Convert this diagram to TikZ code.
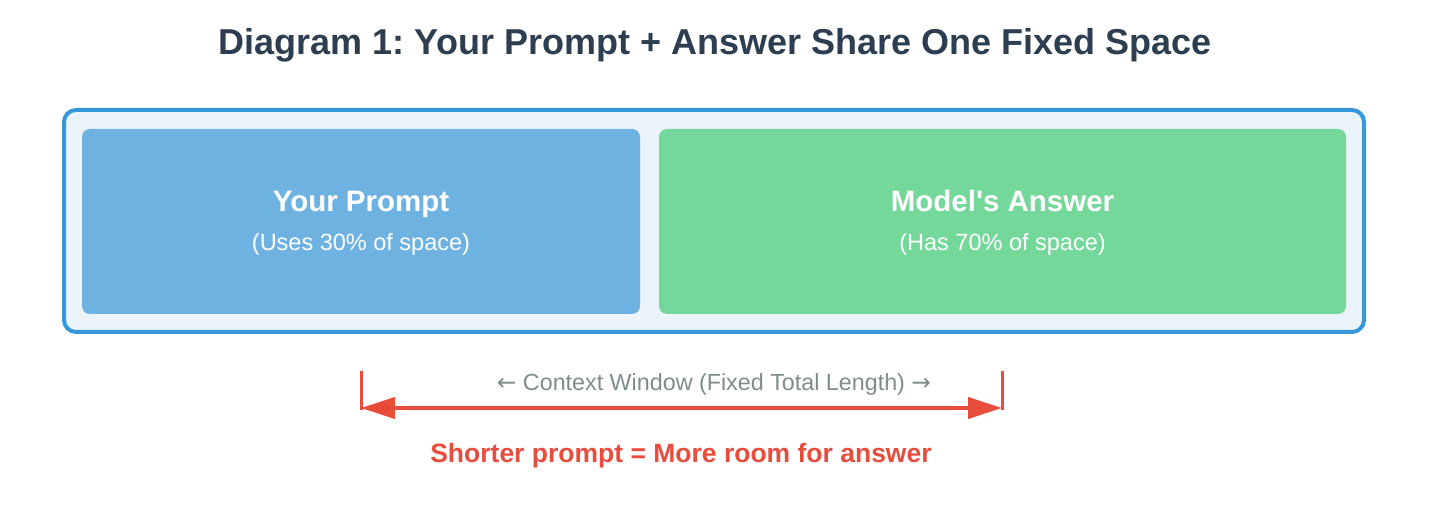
\documentclass[tikz,border=0pt]{standalone}
\usepackage{fontspec}
\setmainfont{Liberation Sans}
\newfontfamily\arrowfont{DejaVu Sans}
\usetikzlibrary{arrows.meta}
\frenchspacing

\definecolor{titleblue}{HTML}{2C3E50}
\definecolor{frameblue}{HTML}{3498DB}
\definecolor{framefill}{HTML}{EAF4FA}
\definecolor{promptfill}{HTML}{6EB2E2}
\definecolor{answerfill}{HTML}{74D89B}
\definecolor{notegray}{HTML}{7F8C8D}
\definecolor{alertred}{HTML}{E74C3C}

\begin{document}
\begin{tikzpicture}[x=1pt,y=-1pt,
    part/.style={rectangle,rounded corners=8pt,inner sep=0pt,minimum height=185pt},
    head/.style={anchor=base,text=white,font=\bfseries\fontsize{29.5}{34}\selectfont},
    sub/.style={anchor=base,text=white,font=\fontsize{23.5}{28}\selectfont}]
    \useasboundingbox (0,0) rectangle (1456,510);

    \node[anchor=base,text=titleblue,font=\bfseries\fontsize{36}{42}\selectfont] (title) at (715,55) {Diagram 1: Your Prompt + Answer Share One Fixed Space};

    \node[rectangle,rounded corners=12pt,draw=frameblue,line width=4pt,fill=framefill,
      minimum width=1300pt,minimum height=222pt,inner sep=0pt] (window) at (714,221) {};
    \node[part,fill=promptfill,minimum width=558pt] (prompt) at (361,221.5) {};
    \node[part,fill=answerfill,minimum width=687pt] (answer) at (1002.5,221.5) {};

    \node[head] (promptHead) at (361,212) {Your Prompt};
    \node[sub] (promptSub) at (361,251) {(Uses 30\% of space)};
    \node[head] (answerHead) at (1002.5,212) {Model\textquotesingle s Answer};
    \node[sub] (answerSub) at (1002.5,251) {(Has 70\% of space)};

    \coordinate (barL) at (361,371);
    \coordinate (barR) at (1002,371);
    \coordinate (arrL) at (361,408);
    \coordinate (arrR) at (1002,408);
    \draw[alertred,line width=3pt] (barL) -- ++(0,39);
    \draw[alertred,line width=3pt] (barR) -- ++(0,39);
    \path[Triangle-Triangle] (arrL) edge[draw=alertred,line width=4pt,
      arrows={Triangle[length=34pt,width=21pt]-Triangle[length=34pt,width=21pt]}] (arrR);

    \node[anchor=base,text=notegray,font=\fontsize{23.3}{27}\selectfont] (span) at (714,390) {{\arrowfont ←} Context Window (Fixed Total Length) {\arrowfont →}};
    \node[anchor=base,text=alertred,font=\bfseries\fontsize{26.5}{30}\selectfont] (moral) at (681,462) {Shorter prompt = More room for answer};
  \end{tikzpicture}
\end{document}
